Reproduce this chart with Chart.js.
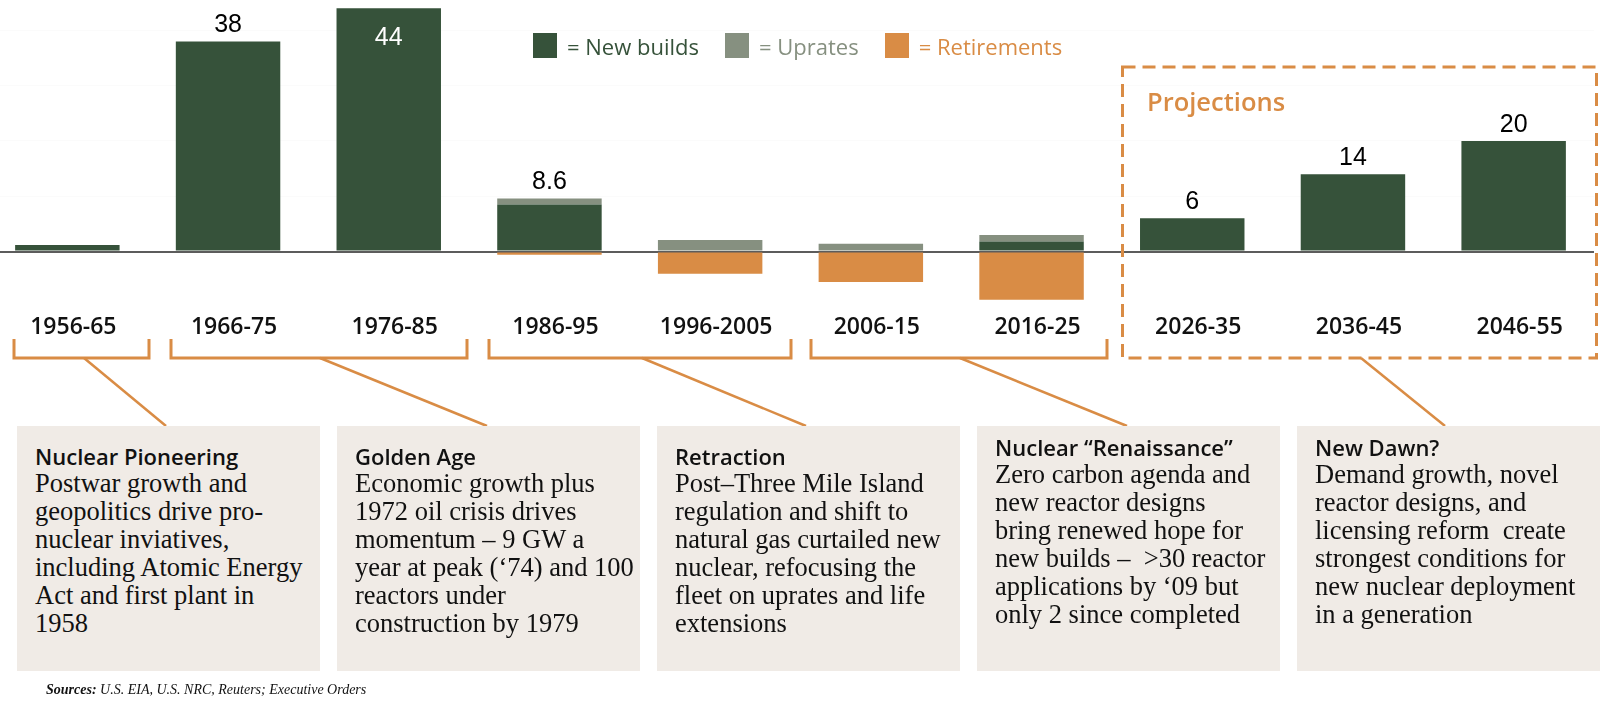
<!DOCTYPE html>
<html>
<head>
<meta charset="utf-8">
<script src="https://cdn.jsdelivr.net/npm/chart.js@4.4.1/dist/chart.umd.min.js"></script>
<style>
    html, body { margin: 0; padding: 0; background: #fff; }
    #page { position: relative; width: 1600px; height: 711px; overflow: hidden; font-family: 'Open Sans', sans-serif; }
    #chartWrap { position: absolute; left: -13px; top: 0; width: 1607px; height: 352px; }
    #legend { position: absolute; left: 533px; top: 33px; height: 25px; display: flex; align-items: center; }
    .legend-item { display: flex; align-items: center; margin-right: 26px; font-size: 22px; }
    .swatch { width: 24px; height: 25px; margin-right: 10px; }
    #projections { position: absolute; left: 1147px; top: 84px; font: 600 25.5px/34px 'Open Sans', sans-serif; color: #d98c45; }
    #overlay { position: absolute; left: 0; top: 0; }
    .note { position: absolute; top: 426px; width: 303px; height: 245px; background: #f0ebe6; box-sizing: border-box; padding: 17px 0 0 18px; color: #111; white-space: nowrap; }
    .note.high { padding-top: 8px; }
    .note h3 { margin: 0; font: 600 22px/26px 'Open Sans', sans-serif; }
    .note p { margin: 0; font: 26.5px/28px 'Liberation Serif', serif; }
    #sources { position: absolute; left: 46px; top: 680px; font: italic 14px/20px 'Liberation Serif', serif; color: #111; }
</style>
</head>
<body>
<div id="page">
    <div id="chartWrap"><canvas id="nuclearChart"></canvas></div>
    <div id="legend"></div>
    <div id="projections">Projections</div>

    <svg id="overlay" width="1600" height="711">
        <g fill="none" stroke="#d98c45" stroke-width="3">
            <polyline points="14,339 14,358 149,358 149,339"/>
            <polyline points="171,339 171,358 467,358 467,339"/>
            <polyline points="489,339 489,358 791,358 791,339"/>
            <polyline points="811,339 811,358 1107,358 1107,339"/>
            <rect x="1122.5" y="67" width="474" height="291" stroke-dasharray="13 7"/>
        </g>
        <g stroke="#d98c45" stroke-width="2.5">
            <line x1="84" y1="358" x2="166" y2="426"/>
            <line x1="320" y1="358" x2="487" y2="426"/>
            <line x1="642" y1="358" x2="806" y2="426"/>
            <line x1="960" y1="358" x2="1127" y2="426"/>
            <line x1="1361" y1="358" x2="1445" y2="426"/>
        </g>
    </svg>

    <div class="note" style="left:17px">
        <h3>Nuclear Pioneering</h3>
        <p>Postwar growth and<br>geopolitics drive pro-<br>nuclear inviatives,<br>including Atomic Energy<br>Act and first plant in<br>1958</p>
    </div>
    <div class="note" style="left:337px">
        <h3>Golden Age</h3>
        <p>Economic growth plus<br>1972 oil crisis drives<br>momentum – 9 GW a<br>year at peak (‘74) and 100<br>reactors under<br>construction by 1979</p>
    </div>
    <div class="note" style="left:657px">
        <h3>Retraction</h3>
        <p>Post–Three Mile Island<br>regulation and shift to<br>natural gas curtailed new<br>nuclear, refocusing the<br>fleet on uprates and life<br>extensions</p>
    </div>
    <div class="note high" style="left:977px">
        <h3>Nuclear “Renaissance”</h3>
        <p>Zero carbon agenda and<br>new reactor designs<br>bring renewed hope for<br>new builds –&nbsp; &gt;30 reactor<br>applications by ‘09 but<br>only 2 since completed</p>
    </div>
    <div class="note high" style="left:1297px">
        <h3>New Dawn?</h3>
        <p>Demand growth, novel<br>reactor designs, and<br>licensing reform&nbsp; create<br>strongest conditions for<br>new nuclear deployment<br>in a generation</p>
    </div>

    <div id="sources"><b>Sources:</b> U.S. EIA, U.S. NRC, Reuters; Executive Orders</div>
</div>

<script>
// Decades on the x axis
const decades = ['1956-65', '1966-75', '1976-85', '1986-95', '1996-2005',
                 '2006-15', '2016-25', '2026-35', '2036-45', '2046-55'];

// Capacity change per decade (GW)
const newBuilds   = [1.2, 38, 44, 8.5, 0, 0, 1.8, 6, 14, 20];
const uprates     = [0, 0, 0, 1.1, 2.1, 1.4, 1.2, 0, 0, 0];
const retirements = [0, 0, 0, -0.6, -4.0, -5.5, -8.7, 0, 0, 0];

// Net labels printed above the bars
const totalLabels = ['', '38', '44', '8.6', '', '', '', '6', '14', '20'];

const seriesNames  = ['= New builds', '= Uprates', '= Retirements'];
const seriesColors = ['#36523a', '#869080', '#d98c45'];

document.addEventListener('DOMContentLoaded', () => {
    buildLegend();
    initializeChart();
});

function buildLegend() {
    const legend = document.getElementById('legend');
    seriesNames.forEach((name, i) => {
        const item = document.createElement('div');
        item.className = 'legend-item';
        item.style.color = seriesColors[i];
        item.innerHTML = `<span class="swatch" style="background:${seriesColors[i]}"></span>${name}`;
        legend.appendChild(item);
    });
}

// Draws the net value above each stacked bar (inside when there is no room)
const valueLabels = {
    id: 'valueLabels',
    afterDatasetsDraw(chart) {
        const ctx = chart.ctx;
        const metas = chart.data.datasets.map((d, i) => chart.getDatasetMeta(i));
        const base = chart.scales.y.getPixelForValue(0);
        ctx.save();
        ctx.font = '25px "Liberation Sans", Arial, sans-serif';
        ctx.textAlign = 'center';
        ctx.textBaseline = 'middle';
        totalLabels.forEach((label, i) => {
            if (!label) return;
            let top = base;
            metas.forEach(m => {
                const el = m.data[i];
                if (el && el.y < top) top = el.y;
            });
            const x = metas[0].data[i].x;
            if (top - 32 < chart.chartArea.top) {
                ctx.fillStyle = '#fff';
                ctx.fillText(label, x, top + 30);
            } else {
                ctx.fillStyle = '#000';
                ctx.fillText(label, x, top - 16);
            }
        });
        ctx.restore();
    }
};

function initializeChart() {
    const ctx = document.getElementById('nuclearChart').getContext('2d');
    const values = [newBuilds, uprates, retirements];
    new Chart(ctx, {
        type: 'bar',
        data: {
            labels: decades,
            datasets: values.map((data, i) => ({
                label: seriesNames[i],
                data: data,
                backgroundColor: seriesColors[i],
                borderWidth: 0,
                barPercentage: 0.65,
                categoryPercentage: 1.0
            }))
        },
        options: {
            responsive: true,
            maintainAspectRatio: false,
            animation: false,
            layout: { padding: 0 },
            plugins: {
                legend: { display: false },
                tooltip: { enabled: false }
            },
            scales: {
                x: {
                    stacked: true,
                    grid: { display: false, drawTicks: false },
                    border: { display: false },
                    ticks: {
                        color: '#111',
                        font: { family: 'Open Sans', size: 23, weight: '600' },
                        padding: 11,
                        labelOffset: 6,
                        maxRotation: 0,
                        autoSkip: false
                    }
                },
                y: {
                    stacked: true,
                    min: -9.2,
                    max: 45.5,
                    border: { display: false },
                    grid: {
                        drawTicks: false,
                        color: c => c.tick.value === 0 ? '#5c5c5c'
                            : (c.tick.value % 10 === 0 ? '#fbfbfb' : 'rgba(0,0,0,0)'),
                        lineWidth: c => c.tick.value === 0 ? 2 : 1
                    },
                    ticks: { display: false, stepSize: 10 }
                }
            }
        },
        plugins: [valueLabels]
    });
}
</script>
</body>
</html>
